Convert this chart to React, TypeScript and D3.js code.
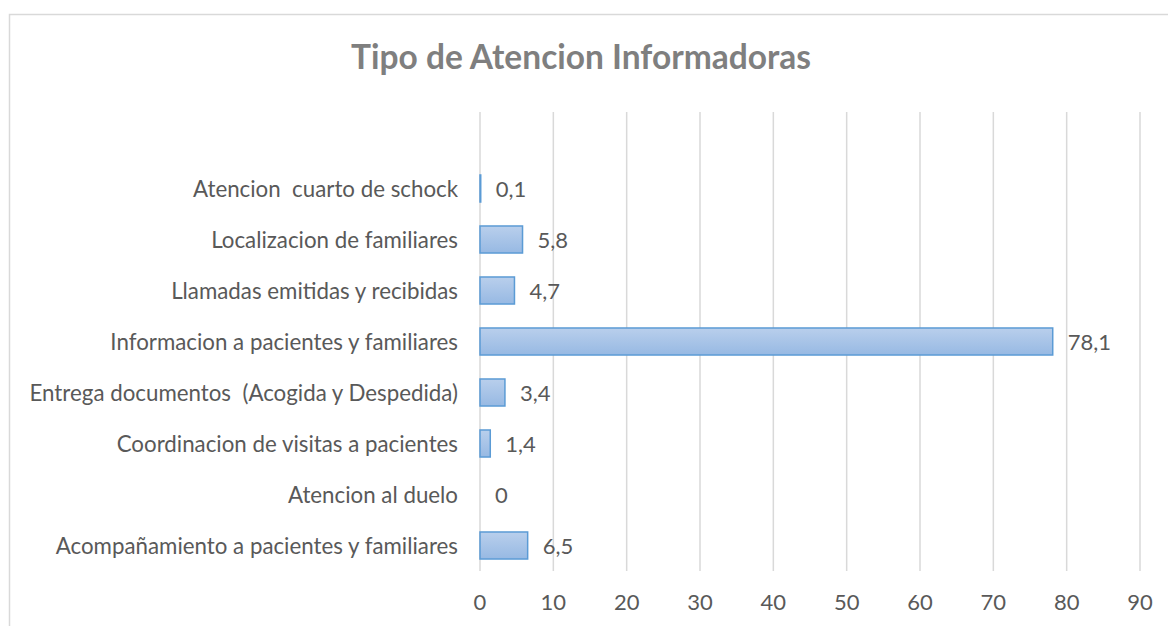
import { useEffect, useRef } from "react";
import * as d3 from "d3";

const categories = [
  "Acompañamiento a pacientes y familiares",
  "Atencion al duelo",
  "Coordinacion de visitas a pacientes",
  "Entrega documentos  (Acogida y Despedida)",
  "Informacion a pacientes y familiares",
  "Llamadas emitidas y recibidas",
  "Localizacion de familiares",
  "Atencion  cuarto de schock",
];
const values = [6.5, 0, 1.4, 3.4, 78.1, 4.7, 5.8, 0.1];
const valueLabels = ["6,5", "0", "1,4", "3,4", "78,1", "4,7", "5,8", "0,1"];
const xTicks = [0, 10, 20, 30, 40, 50, 60, 70, 80, 90];

const W = 1168;
const H = 626;
const FONT = "Lato, 'Open Sans', sans-serif";

const App = () => {
  const svgRef = useRef<SVGSVGElement | null>(null);

  useEffect(() => {
    const svg = d3.select(svgRef.current);
    svg.selectAll("*").remove();

    // outer chart frame (runs off the right / bottom edge)
    svg
      .append("rect")
      .attr("x", 9.5)
      .attr("y", 14.5)
      .attr("width", W + 20)
      .attr("height", H + 20)
      .attr("fill", "#fff")
      .attr("stroke", "#d9d9d9")
      .attr("stroke-width", 1.5);

    const defs = svg.append("defs");
    const grad = defs
      .append("linearGradient")
      .attr("id", "barGrad")
      .attr("x1", 0)
      .attr("y1", 0)
      .attr("x2", 0)
      .attr("y2", 1);
    grad.append("stop").attr("offset", "0%").attr("stop-color", "#b9cfec");
    grad.append("stop").attr("offset", "100%").attr("stop-color", "#97b9e3");

    svg
      .append("text")
      .attr("x", 581)
      .attr("y", 69)
      .attr("text-anchor", "middle")
      .attr("font-family", FONT)
      .attr("font-weight", "bold")
      .attr("font-size", 33.5)
      .attr("fill", "#7f7f7f")
      .text("Tipo de Atencion Informadoras");

    const x = d3.scaleLinear().domain([0, 90]).range([480, 1140]);
    const y = d3
      .scaleBand<number>()
      .domain(d3.range(categories.length))
      .range([571, 163])
      .paddingInner(0.47)
      .paddingOuter(0.235);

    const gridTop = 112;
    const gridBottom = 571;

    svg
      .append("g")
      .selectAll("line")
      .data(xTicks)
      .enter()
      .append("line")
      .attr("x1", (d) => x(d))
      .attr("x2", (d) => x(d))
      .attr("y1", gridTop)
      .attr("y2", gridBottom)
      .attr("stroke", "#d9d9d9")
      .attr("stroke-width", 1.5);

    svg
      .append("g")
      .selectAll("text")
      .data(xTicks)
      .enter()
      .append("text")
      .attr("x", (d) => x(d))
      .attr("y", 610)
      .attr("text-anchor", "middle")
      .attr("font-family", FONT)
      .attr("font-size", 22)
      .attr("fill", "#595959")
      .text((d) => String(d));

    // category labels (keep the double spaces from the source)
    svg
      .append("g")
      .selectAll("text")
      .data(categories)
      .enter()
      .append("text")
      .attr("x", 458)
      .attr("y", (_, i) => (y(i) as number) + y.bandwidth() / 2)
      .attr("dy", "0.36em")
      .attr("text-anchor", "end")
      .attr("font-family", FONT)
      .attr("font-size", 22.3)
      .attr("fill", "#595959")
      .style("white-space", "pre")
      .text((d) => d);

    svg
      .append("g")
      .selectAll("rect")
      .data(values)
      .enter()
      .append("rect")
      .attr("x", x(0))
      .attr("y", (_, i) => y(i) as number)
      .attr("width", (d) => x(d) - x(0))
      .attr("height", y.bandwidth())
      .attr("fill", "url(#barGrad)")
      .attr("stroke", (d) => (d > 0 ? "#5b9bd5" : "none"))
      .attr("stroke-width", 1.5);

    svg
      .append("g")
      .selectAll("text")
      .data(values)
      .enter()
      .append("text")
      .attr("x", (d) => x(d) + 15)
      .attr("y", (_, i) => (y(i) as number) + y.bandwidth() / 2)
      .attr("dy", "0.38em")
      .attr("font-family", FONT)
      .attr("font-size", 22)
      .attr("fill", "#595959")
      .text((_, i) => valueLabels[i]);
  }, []);

  return (
    <svg
      ref={svgRef}
      width={W}
      height={H}
      style={{ position: "absolute", left: 0, top: 0 }}
    ></svg>
  );
};

export default App;
